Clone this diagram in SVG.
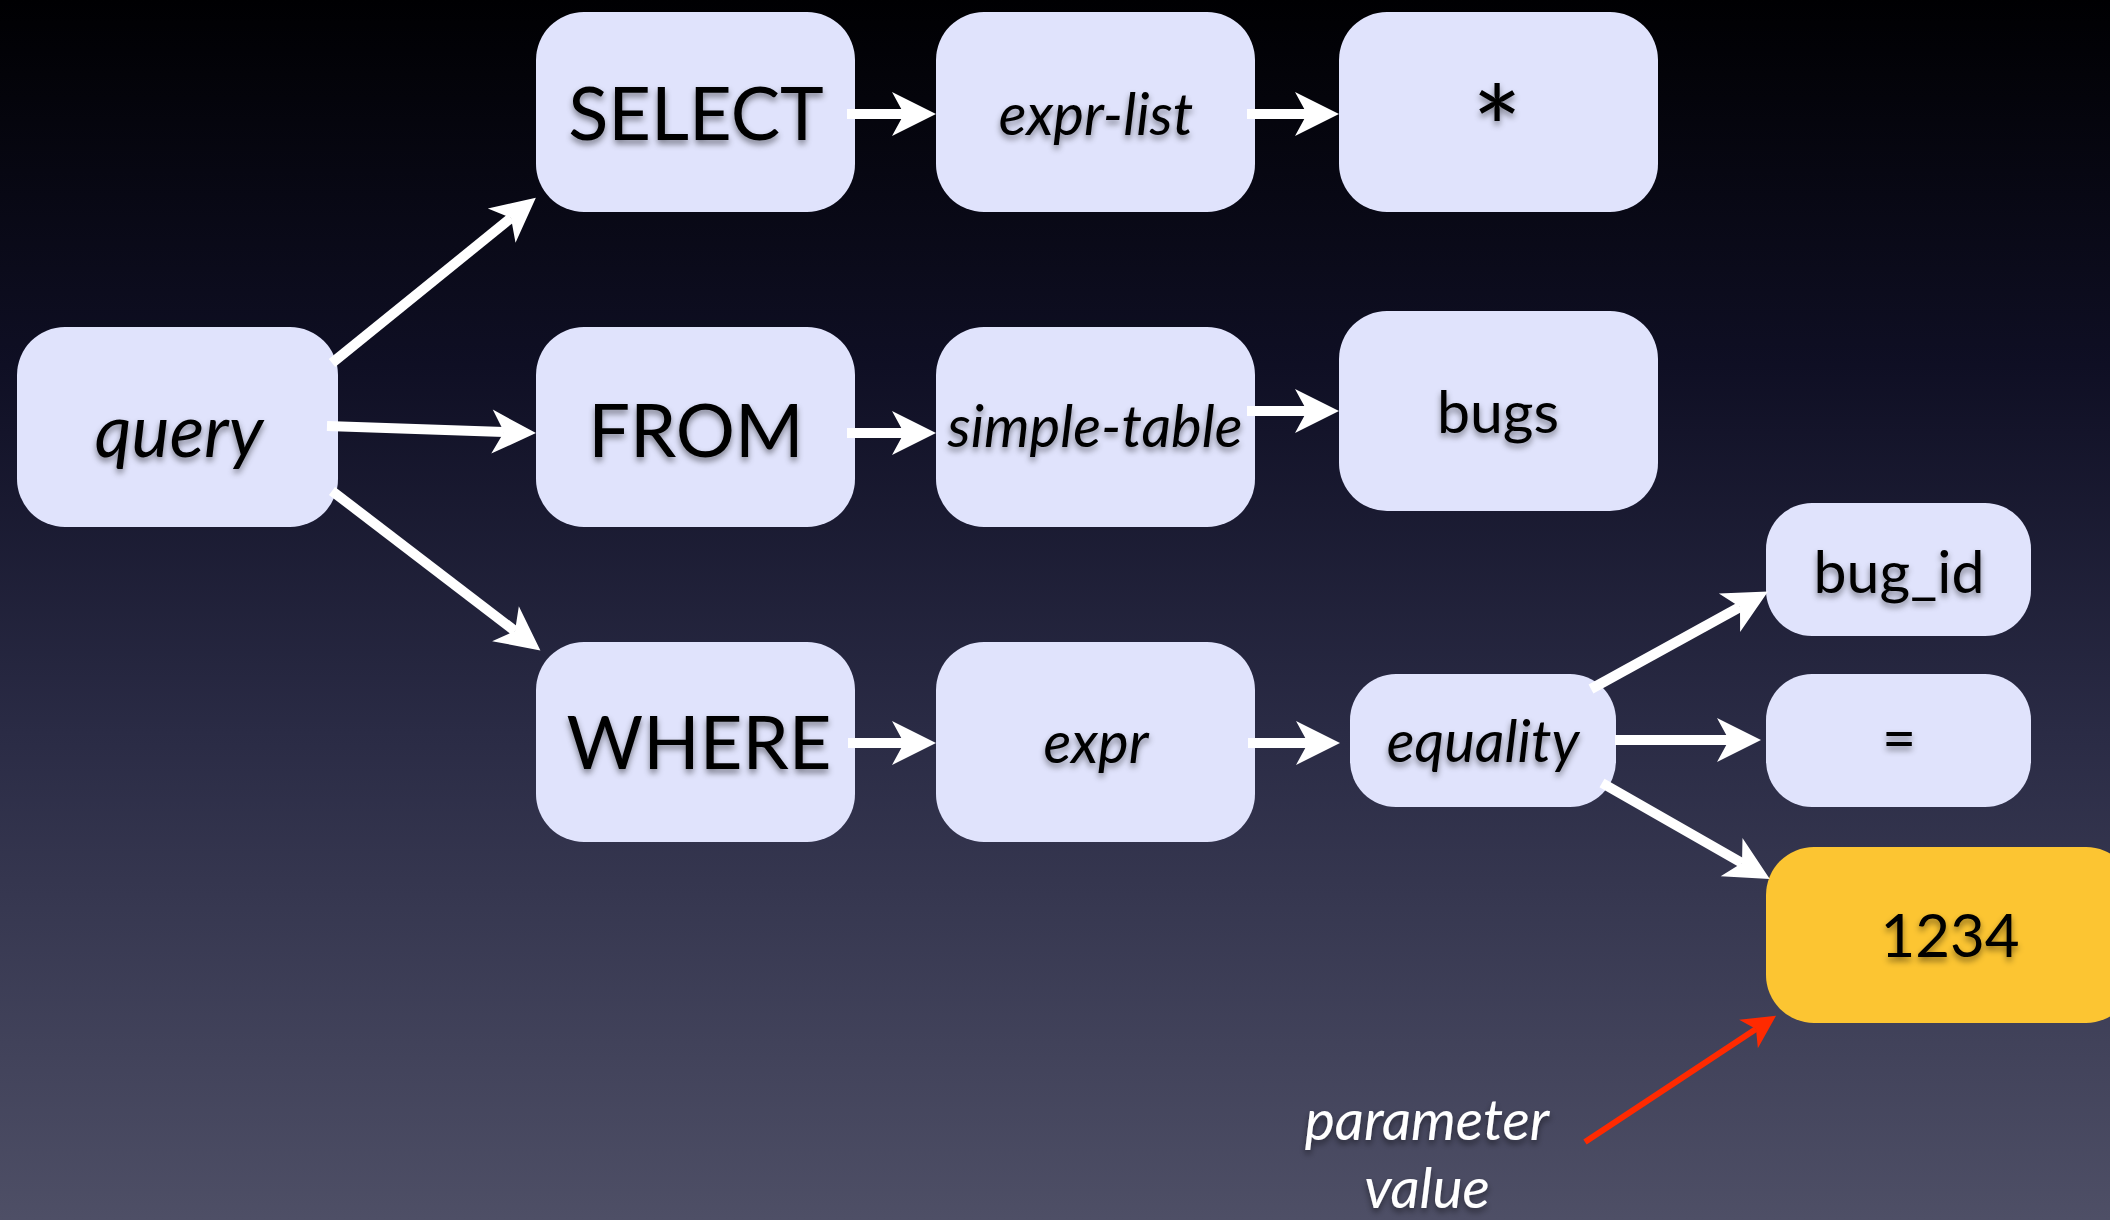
<svg xmlns="http://www.w3.org/2000/svg" width="2110" height="1220" viewBox="0 0 2110 1220">
  <defs>
    <linearGradient id="bg" x1="0" y1="0" x2="0" y2="1">
      <stop offset="0" stop-color="#000002"/>
      <stop offset="0.3" stop-color="#0f0f24"/>
      <stop offset="0.6" stop-color="#2a2b45"/>
      <stop offset="1" stop-color="#4e4f66"/>
    </linearGradient>
    <filter id="shadow" x="-10%" y="-30%" width="120%" height="170%">
      <feDropShadow dx="0" dy="4" stdDeviation="3" flood-color="#000" flood-opacity="0.45"/>
    </filter>
    <!-- notched arrowheads; the line ends at the notch, the tip sits 32/24 units further on -->
    <marker id="head" viewBox="-46 -25 50 50" markerWidth="50" markerHeight="50" refX="-32" refY="0" orient="auto" markerUnits="userSpaceOnUse">
      <path d="M0,0 L-44,-22 L-32,0 L-44,22 Z" fill="#ffffff"/>
    </marker>
    <marker id="head-red" viewBox="-36 -20 40 40" markerWidth="40" markerHeight="40" refX="-24" refY="0" orient="auto" markerUnits="userSpaceOnUse">
      <path d="M0,0 L-33,-17 L-24,0 L-33,17 Z" fill="#ff2a00"/>
    </marker>
    <style>
      .box { fill: #e0e3fc; }
      .box.hot { fill: #fcc532; }
      .lbl { font-family: Lato, "Liberation Sans", sans-serif; fill: #000; text-anchor: middle; filter: url(#shadow); }
      .kw { font-size: 74px; }
      .nt { font-size: 58px; font-style: italic; }
      .lit { font-size: 59px; }
      .note { font-family: Lato, "Liberation Sans", sans-serif; font-size: 57px; font-style: italic; fill: #ffffff; text-anchor: middle; filter: url(#shadow); }
      .edge { stroke: #ffffff; stroke-width: 10; fill: none; marker-end: url(#head); }
      .edge.red { stroke: #ff2a00; stroke-width: 6; marker-end: url(#head-red); }
    </style>
  </defs>

  <rect x="0" y="0" width="2110" height="1220" fill="url(#bg)"/>

  <g id="n-query"><rect class="box" x="17" y="327" width="321" height="200" rx="48"/><text class="lbl nt" x="179" y="457" style="font-size:72px">query</text></g>
  <g id="n-select"><rect class="box" x="536" y="12" width="319" height="200" rx="48"/><text class="lbl kw" x="696" y="140">SELECT</text></g>
  <g id="n-exprlist"><rect class="box" x="936" y="12" width="319" height="200" rx="48"/><text class="lbl nt" x="1096" y="135">expr-list</text></g>
  <g id="n-star"><rect class="box" x="1339" y="12" width="319" height="200" rx="48"/><text class="lbl" x="1497" y="172" style="font-size:118px">*</text></g>
  <g id="n-from"><rect class="box" x="536" y="327" width="319" height="200" rx="48"/><text class="lbl kw" x="696" y="457">FROM</text></g>
  <g id="n-simpletable"><rect class="box" x="936" y="327" width="319" height="200" rx="48"/><text class="lbl nt" x="1095" y="447">simple-table</text></g>
  <g id="n-bugs"><rect class="box" x="1339" y="311" width="319" height="200" rx="48"/><text class="lbl lit" x="1498" y="433">bugs</text></g>
  <g id="n-where"><rect class="box" x="536" y="642" width="319" height="200" rx="48"/><text class="lbl kw" x="699" y="769">WHERE</text></g>
  <g id="n-expr"><rect class="box" x="936" y="642" width="319" height="200" rx="48"/><text class="lbl nt" x="1096" y="763">expr</text></g>
  <g id="n-equality"><rect class="box" x="1350" y="674" width="266" height="133" rx="46"/><text class="lbl nt" x="1483" y="762">equality</text></g>
  <g id="n-bugid"><rect class="box" x="1766" y="503" width="265" height="133" rx="46"/><text class="lbl lit" x="1899" y="593">bug_id</text></g>
  <g id="n-eq"><rect class="box" x="1766" y="674" width="265" height="133" rx="46"/><text class="lbl lit" x="1899" y="759">=</text></g>
  <g id="n-1234"><rect class="box hot" x="1766" y="847" width="368" height="176" rx="48"/><text class="lbl" x="1950" y="957" style="font-size:60px">1234</text></g>

  <g id="n-note"><text class="note" x="1427" y="1140">parameter</text><text class="note" x="1427" y="1208">value</text></g>

  <g id="connectors">
    <line class="edge" x1="332" y1="363" x2="511" y2="218"/>
    <line class="edge" x1="327" y1="426" x2="504" y2="432"/>
    <line class="edge" x1="332" y1="491" x2="515" y2="631"/>
    <line class="edge" x1="847" y1="114" x2="904" y2="114"/>
    <line class="edge" x1="1247" y1="114" x2="1307" y2="114"/>
    <line class="edge" x1="847" y1="433" x2="904" y2="433"/>
    <line class="edge" x1="1247" y1="411" x2="1307" y2="411"/>
    <line class="edge" x1="848" y1="743" x2="904" y2="743"/>
    <line class="edge" x1="1248" y1="743" x2="1308" y2="743"/>
    <line class="edge" x1="1591" y1="689" x2="1740" y2="607"/>
    <line class="edge" x1="1615" y1="740" x2="1729" y2="740"/>
    <line class="edge" x1="1602" y1="783" x2="1742" y2="863"/>
    <line class="edge red" x1="1585" y1="1142" x2="1756" y2="1029"/>
  </g>
</svg>
